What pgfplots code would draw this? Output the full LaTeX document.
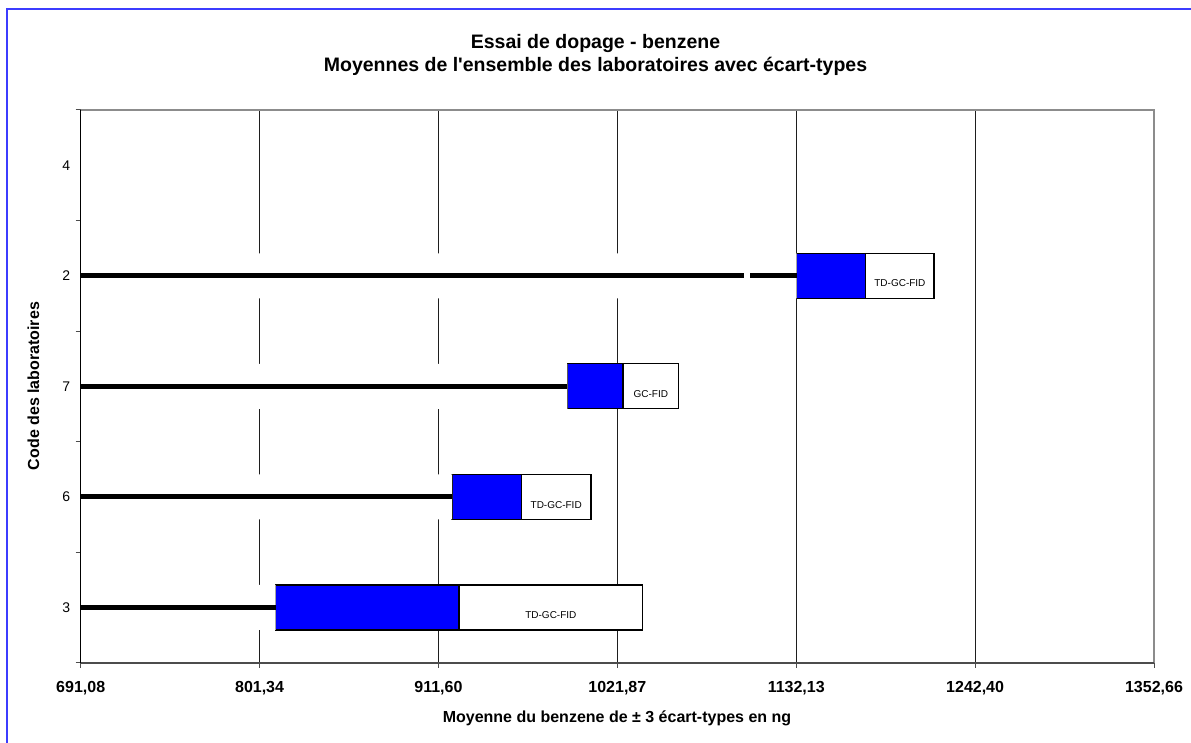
\documentclass[border=0pt]{standalone}
\usepackage{fontspec}
\setmainfont{Liberation Sans}
\usepackage{pgfplots}
\pgfplotsset{compat=1.18}
\usepackage{pgfplotstable}

\definecolor{framebl}{RGB}{60,60,255}
\definecolor{barbl}{RGB}{0,0,255}
\definecolor{gridc}{RGB}{30,30,30}

% segment lengths: line/white part, blue part, white labelled part
\pgfplotstableread{
y  low     blue    white
1  811.28  113.00  113.22
2  919.96  42.72   42.98
3  991.00  34.36   34.34
4  1132.43 42.53   42.14
}\bars

\pgfplotsset{
  labaxis/.style={
    at={(80.7bp,80.3bp)}, anchor=south west,
    width=1073.3bp, height=552.7bp, scale only axis,
    xmin=691.08, xmax=1352.66, ymin=0.5, ymax=5.5,
  }
}

\begin{document}
\begin{tikzpicture}
\useasboundingbox (0,0) rectangle (1191bp,743bp);
\draw[framebl, line width=1.6bp] (6.7bp,0) -- (6.7bp,734bp) -- (1191bp,734bp);

\begin{axis}[labaxis,
  xbar stacked, bar width=0.407,
  axis line style={draw=none},
  xtick={691.08,801.34,911.60,1021.87,1132.13,1242.40,1352.66},
  xticklabels={{691,08},{801,34},{911,60},{1021,87},{1132,13},{1242,40},{1352,66}},
  xticklabel style={font=\fontsize{16bp}{19bp}\selectfont\bfseries, yshift=-10bp},
  ytick={0.5,1.5,...,5.5}, yticklabels={},
  extra y ticks={1,2,3,4,5}, extra y tick labels={3,6,7,2,4},
  extra y tick style={major tick length=0pt, tick style={draw=none}},
  yticklabel style={font=\fontsize{14bp}{16bp}\selectfont, xshift=-7bp},
  tick pos=left, tick align=outside, major tick length=5bp,
  tick style={black!70, line width=1bp},
  xmajorgrids, grid style={gridc, line width=1bp},
]
\addplot[fill=white, draw=none] table[x=low, y=y] {\bars};
\addplot[fill=barbl, draw=black, line width=1.2bp] table[x=blue, y=y] {\bars};
\addplot[fill=white, draw=black, line width=1.2bp] table[x=white, y=y] {\bars};
\end{axis}

\begin{axis}[labaxis, hide axis, clip=false]
\addplot[black, line width=5bp] coordinates {(691.08,1) (811.28,1)};
\addplot[black, line width=5bp] coordinates {(691.08,2) (919.96,2)};
\addplot[black, line width=5bp] coordinates {(691.08,3) (991.00,3)};
\addplot[black, line width=5bp] coordinates {(691.08,4) (1099.96,4)};
\addplot[black, line width=5bp] coordinates {(1103.66,4) (1132.43,4)};
\draw[black!45, line width=1.5bp] (rel axis cs:0,1) -- (rel axis cs:1,1) -- (rel axis cs:1,0);
\draw[black!70, line width=2bp] (rel axis cs:0,0) -- (rel axis cs:1,0);
\draw[black, line width=1.3bp] (rel axis cs:0,0) -- (rel axis cs:0,1);
\begin{scope}[every node/.style={font=\fontsize{10bp}{12bp}\selectfont}]
\node at (axis cs:980.89,0.93) {TD-GC-FID};
\node at (axis cs:984.17,1.93) {TD-GC-FID};
\node at (axis cs:1042.53,2.93) {GC-FID};
\node at (axis cs:1196.03,3.93) {TD-GC-FID};
\end{scope}
\end{axis}

\node[anchor=base, font=\fontsize{19.5bp}{22bp}\selectfont\bfseries] at (595.5bp,694bp) {Essai de dopage - benzene};
\node[anchor=base, font=\fontsize{19.5bp}{22bp}\selectfont\bfseries] at (595.5bp,671.7bp) {Moyennes de l\textquotesingle ensemble des laboratoires avec écart-types};
\node[anchor=base, font=\fontsize{16bp}{19bp}\selectfont\bfseries] at (617bp,20.6bp) {Moyenne du benzene de ± 3 écart-types en ng};
\node[rotate=90, font=\fontsize{16bp}{19bp}\selectfont\bfseries] at (33.5bp,357bp) {Code des laboratoires};
\end{tikzpicture}
\end{document}
